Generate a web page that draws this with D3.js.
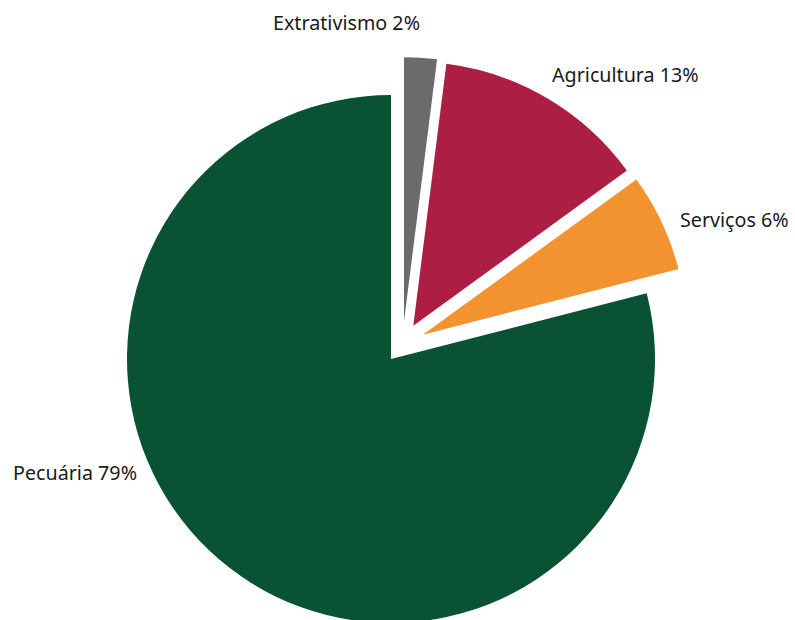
<!DOCTYPE html>
<html>
<head>
<meta charset="utf-8">
<script src="https://cdn.jsdelivr.net/npm/d3@7"></script>
<style>
  body { margin: 0; background: #fff; }
  text { font-family: "Noto Sans", sans-serif; font-size: 19.7px; fill: #1a1a1a; }
</style>
</head>
<body>
<svg id="chart" width="795" height="620"></svg>
<script>
// data, clockwise from 12 o'clock
var categories = ["Extrativismo", "Agricultura", "Serviços", "Pecuária"];
var shares = [2, 13, 6, 79];
var exploded = ["Extrativismo", "Agricultura", "Serviços"];

var colors = ["#6b6b6b", "#ad1e45", "#f29330", "#0a5234"];

var width = 795, height = 620;
var cx = 391, cy = 359, radius = 264;
var explodeDist = 40;

// label placement, relative to the pie centre (dx, dy, anchor)
var labelLayout = {
  "Extrativismo": [29, -329, "end"],
  "Agricultura": [161, -277, "start"],
  "Serviços": [289, -132, "start"],
  "Pecuária": [-254, 121, "end"]
};

var data = categories.map(function(c, i) {
  return { label: c, value: shares[i] };
});

var pie = d3.pie()
    .sort(null)
    .value(function(d) { return d.value; });

var arcs = pie(data);

var arc = d3.arc()
    .innerRadius(0)
    .outerRadius(radius);

// the pulled-out slices move as a group, each leaning toward the group's middle
var outArcs = arcs.filter(function(a) { return exploded.indexOf(a.data.label) >= 0; });
var groupMid = (d3.min(outArcs, function(a) { return a.startAngle; }) +
                d3.max(outArcs, function(a) { return a.endAngle; })) / 2;

function offset(a) {
  if (exploded.indexOf(a.data.label) < 0) return [0, 0];
  var mid = (a.startAngle + a.endAngle) / 2;
  var dir = mid + 0.45 * (groupMid - mid);
  return d3.pointRadial(dir, explodeDist);
}

var svg = d3.select("#chart");

var g = svg.append("g")
    .attr("transform", "translate(" + cx + "," + cy + ")");

g.selectAll("path")
    .data(arcs)
  .enter().append("path")
    .attr("d", arc)
    .attr("fill", function(d, i) { return colors[i]; })
    .attr("transform", function(d) {
      var o = offset(d);
      return "translate(" + o[0] + "," + o[1] + ")";
    });

g.selectAll("text")
    .data(arcs)
  .enter().append("text")
    .attr("x", function(d) { return labelLayout[d.data.label][0]; })
    .attr("y", function(d) { return labelLayout[d.data.label][1]; })
    .attr("text-anchor", function(d) { return labelLayout[d.data.label][2]; })
    .text(function(d) { return d.data.label + " " + d.data.value + "%"; });
</script>
</body>
</html>
